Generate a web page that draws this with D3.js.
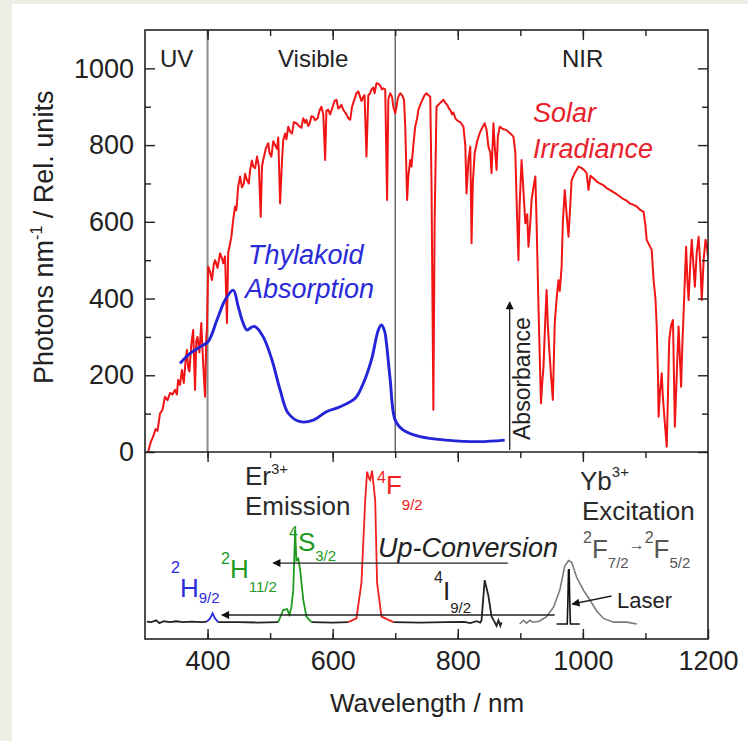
<!DOCTYPE html>
<html>
<head>
<meta charset="utf-8">
<script src="https://cdn.jsdelivr.net/npm/d3@7"></script>
<style>
  body { margin: 0; background: #ebeee2; }
  svg { display: block; }
  text { font-family: "Liberation Sans", Arial, Helvetica, sans-serif; }
</style>
</head>
<body>
<svg id="chart" width="748" height="741"></svg>
<script>
// ---- data (wavelength nm, value) ----
var solarIrradiance = [
  [305,0],[309,25],[313,40],[317,60],[320,55],[324,100],[328,110],[332,144],[336,135],[340,154],
  [344,150],[348,162],[351,150],[353,188],[356,175],[359,214],[362,180],[365,240],[367,266],[369,220],
  [371,210],[374,280],[377,318],[380,162],[382,290],[384,300],[387,260],[390,336],[393,230],[396,144],
  [398,300],[399,320],[401,483],[404,470],[407,448],[410,490],[412,500],[416,480],[420,518],[423,505],
  [425,492],[428,510],[431,336],[433,520],[435,535],[438,560],[441,605],[444,640],[446,630],[449,692],
  [452,718],[455,690],[458,700],[460,725],[463,709],[466,700],[468,735],[471,760],[473,744],[476,740],
  [479,770],[482,745],[485,613],[487,745],[489,761],[493,790],[497,805],[499,780],[502,770],[505,810],
  [508,800],[511,790],[513,820],[516,648],[519,760],[521,813],[524,830],[526,815],[529,848],[532,835],
  [535,830],[538,860],[542,857],[546,850],[550,845],[553,870],[556,858],[558,866],[561,850],[563,855],
  [566,875],[569,874],[572,865],[576,870],[579,890],[582,900],[585,880],[588,761],[590,890],[593,892],
  [596,880],[600,900],[603,915],[606,918],[609,895],[612,900],[614,905],[617,892],[620,885],[622,880],
  [625,870],[628,866],[631,900],[633,910],[636,925],[638,935],[641,940],[644,925],[646,915],[649,926],
  [651,930],[654,770],[657,930],[660,935],[662,945],[665,950],[667,935],[670,961],[673,960],[676,955],
  [679,945],[681,948],[684,945],[687,657],[689,920],[692,935],[695,925],[697,900],[700,883],[702,900],
  [704,920],[706,930],[708,935],[711,930],[714,918],[716,850],[719,657],[721,720],[724,761],[726,744],
  [729,800],[732,848],[735,870],[737,892],[740,905],[744,920],[747,930],[750,935],[753,930],[756,926],
  [758,700],[761,110],[763,600],[766,900],[769,905],[772,910],[775,915],[777,918],[780,910],[783,905],
  [786,895],[788,892],[791,880],[793,885],[796,870],[798,866],[801,862],[804,860],[806,855],[809,848],
  [812,800],[814,674],[817,760],[820,796],[822,544],[824,700],[827,779],[831,810],[835,831],[839,845],
  [843,857],[846,840],[849,796],[852,780],[854,727],[857,857],[859,800],[862,735],[864,820],[867,848],
  [872,842],[878,839],[884,830],[889,822],[892,780],[894,657],[897,500],[899,650],[902,761],[905,680],
  [908,596],[911,620],[913,535],[916,600],[918,657],[921,690],[924,718],[926,596],[929,379],[931,250],
  [933,127],[935,180],[937,222],[940,350],[942,422],[944,330],[946,274],[949,200],[952,136],[955,335],
  [958,400],[961,448],[963,420],[966,483],[968,600],[971,683],[974,620],[977,561],[980,650],[982,709],
  [985,720],[987,727],[990,735],[993,744],[996,742],[998,740],[1002,735],[1006,727],[1009,683],[1012,720],
  [1018,712],[1022,705],[1027,700],[1033,695],[1038,688],[1043,683],[1048,678],[1054,672],[1059,666],
  [1064,660],[1070,655],[1075,648],[1080,645],[1086,640],[1091,632],[1097,626],[1100,590],[1102,553],
  [1106,540],[1110,527],[1113,448],[1116,400],[1118,327],[1120,200],[1121,92],[1123,150],[1126,205],
  [1128,140],[1131,75],[1134,14],[1136,150],[1138,292],[1141,330],[1144,344],[1147,66],[1150,200],
  [1153,327],[1155,250],[1157,170],[1159,280],[1161,361],[1163,450],[1165,535],[1167,450],[1169,396],
  [1172,500],[1174,553],[1177,480],[1179,431],[1182,520],[1185,561],[1188,480],[1190,396],[1193,500],
  [1196,553],[1198,540],[1200,509]
];

var thylakoidAbs = [
  [356,231],[372,257],[388,274],[401,288],[415,344],[428,396],[441,422],[449,379],[456,340],[463,318],
  [470,325],[476,327],[489,300],[503,240],[516,162],[529,101],[548,79],[569,83],[590,105],[612,118],
  [636,140],[649,179],[662,240],[673,318],[678,331],[683,315],[686,283],[692,188],[700,83],[713,57],
  [740,40],[782,31],[835,27],[875,31]
];

// lower panel, relative units 0..1
var erBlack = [
  [303,.093],[310,.09],[318,.1],[323,.085],[330,.095],[340,.09],[350,.095],[360,.09],[375,.093],[390,.09],[399,.093],
  null,
  [417,.09],[450,.09],[480,.088],[513,.09],
  null,
  [566,.09],[600,.088],[625,.09],
  null,
  [697,.09],[740,.088],[780,.09],[810,.092],[820,.085],[830,.095],[836,.088],[838,.1],[843,.315],
  [849,.23],[854,.12],[859,.09],[862,.07],[865,.1],[868,.07],[870,.09]
];
var erBlue = [[399,.093],[404,.11],[408,.137],[412,.11],[417,.09]];
var erGreen = [[513,.09],[521,.155],[527,.16],[531,.13],[534,.17],[537,.26],[540,.583],[542,.42],
  [545,.43],[548,.37],[553,.21],[558,.12],[566,.09]];
var erRed = [[625,.09],[638,.11],[646,.30],[652,.74],[655,.895],[658,.86],[660,.85],[663,.90],
  [668,.74],[671,.30],[678,.12],[697,.09]];
var ybExcitation = [[899,.08],[905,.1],[910,.085],[915,.1],[920,.09],[930,.095],[942,.12],[953,.17],
  [963,.26],[971,.39],[977,.42],[982,.41],[990,.33],[1001,.26],[1011,.21],[1022,.15],[1033,.11],
  [1049,.09],[1070,.09],[1086,.08]];
var laserLine = [[958,.08],[975,.08],[976,.2],[977,.37],[978,.37],[979,.2],[980,.08],[995,.08]];

var xMajor = [400, 600, 800, 1000, 1200];
var xMinor = [400, 500, 600, 700, 800, 900, 1000, 1100];
var yMajor = [0, 200, 400, 600, 800, 1000];
var yMinor = [100, 300, 500, 700, 900];
var regionEdges = [400, 700];

// ---- layout ----
var frame = { left: 145, right: 708, top: 30, mid: 452, bottom: 639 };

var svg = d3.select("#chart");
svg.append("rect").attr("x", 12).attr("y", 4).attr("width", 736).attr("height", 737).attr("fill", "#fff");

var x = d3.scaleLinear().domain([300, 1200]).range([frame.left, frame.right]);
var yTop = d3.scaleLinear().domain([0, 1100]).range([frame.mid, frame.top]);
var yBot = d3.scaleLinear().domain([0, 1]).range([frame.bottom, frame.mid]);

var defs = svg.append("defs");
defs.append("clipPath").attr("id", "clipTop").append("rect")
  .attr("x", frame.left).attr("y", frame.top).attr("width", frame.right - frame.left).attr("height", frame.mid - frame.top);
defs.append("marker").attr("id", "headBig").attr("viewBox", "0 0 10 10").attr("refX", 9).attr("refY", 5)
  .attr("markerWidth", 14).attr("markerHeight", 8).attr("markerUnits", "userSpaceOnUse").attr("orient", "auto")
  .append("path").attr("d", "M0,0 L10,5 L0,10 z").attr("fill", "#111");

// region separators
svg.selectAll(".region").data(regionEdges).enter().append("line")
  .attr("x1", d => x(d)).attr("x2", d => x(d))
  .attr("y1", frame.top).attr("y2", frame.mid)
  .attr("stroke", (d, i) => i == 0 ? "#8a8a8a" : "#555")
  .attr("stroke-width", (d, i) => i == 0 ? 2 : 1.3);

// ---- top panel curves ----
var lineTop = d3.line().x(d => x(d[0])).y(d => yTop(d[1]));
svg.append("path").datum(solarIrradiance).attr("d", lineTop)
  .attr("fill", "none").attr("stroke", "#f01414").attr("stroke-width", 2).attr("stroke-linejoin", "round")
  .attr("clip-path", "url(#clipTop)");
svg.append("path").datum(thylakoidAbs).attr("d", lineTop.curve(d3.curveCatmullRom))
  .attr("fill", "none").attr("stroke", "#2323d8").attr("stroke-width", 2.9);

// absorbance arrow
svg.append("line").attr("x1", x(883)).attr("x2", x(883)).attr("y1", yTop(5)).attr("y2", yTop(391))
  .attr("stroke", "#222").attr("stroke-width", 1.3).attr("marker-end", "url(#headBig)");

// ---- bottom panel curves ----
var lineBot = d3.line().defined(d => d).x(d => x(d[0])).y(d => yBot(d[1]));
svg.append("path").datum(ybExcitation).attr("d", lineBot)
  .attr("fill", "none").attr("stroke", "#7a7a7a").attr("stroke-width", 1.6);
svg.append("path").datum(erBlack).attr("d", lineBot)
  .attr("fill", "none").attr("stroke", "#222").attr("stroke-width", 1.8);
svg.append("path").datum(laserLine).attr("d", lineBot)
  .attr("fill", "none").attr("stroke", "#111").attr("stroke-width", 1.6);
[[erBlue, "#2a2ae0"], [erGreen, "#1e9a1e"], [erRed, "#f02020"]].forEach(function (s) {
  svg.append("path").datum(s[0]).attr("d", lineBot)
    .attr("fill", "none").attr("stroke", s[1]).attr("stroke-width", 1.8);
});

// transition arrows
var arrows = [
  { from: [880, .406], to: [505, .406] },
  { from: [955, .128], to: [423, .128] },
  { from: [1046, .23], to: [983, .187] }
];
svg.selectAll(".arrow").data(arrows).enter().append("line")
  .attr("x1", d => x(d.from[0])).attr("y1", d => yBot(d.from[1]))
  .attr("x2", d => x(d.to[0])).attr("y2", d => yBot(d.to[1]))
  .attr("stroke", "#222").attr("stroke-width", 1.4).attr("marker-end", "url(#headBig)");

// ---- frames and ticks ----
svg.append("rect").attr("x", frame.left).attr("y", frame.top)
  .attr("width", frame.right - frame.left).attr("height", frame.bottom - frame.top)
  .attr("fill", "none").attr("stroke", "#222").attr("stroke-width", 1.6);
svg.append("line").attr("x1", frame.left).attr("x2", frame.right).attr("y1", frame.mid).attr("y2", frame.mid)
  .attr("stroke", "#222").attr("stroke-width", 1.6);

function tickRow(axis, transform) {
  svg.append("g").attr("transform", transform).call(axis)
    .call(g => g.select(".domain").remove())
    .call(g => g.selectAll(".tick line").attr("stroke", "#222").attr("stroke-width", 1.4));
}
var major = 10, minor = 6;
// bottom of lower panel, pointing up
tickRow(d3.axisBottom(x).tickValues(xMinor).tickSize(-minor).tickFormat(""), "translate(0," + frame.bottom + ")");
tickRow(d3.axisBottom(x).tickValues(xMajor).tickSize(-major).tickPadding(12).tickFormat(d3.format("d")),
  "translate(0," + frame.bottom + ")");
// top of lower panel, pointing down
tickRow(d3.axisTop(x).tickValues(xMinor).tickSize(-minor).tickFormat(""), "translate(0," + frame.mid + ")");
tickRow(d3.axisTop(x).tickValues(xMajor.slice(0, 4)).tickSize(-major).tickFormat(""), "translate(0," + frame.mid + ")");
// top edge, pointing down
tickRow(d3.axisTop(x).tickValues(xMinor).tickSize(-minor).tickFormat(""), "translate(0," + frame.top + ")");
tickRow(d3.axisTop(x).tickValues(xMajor.slice(0, 4)).tickSize(-major).tickFormat(""), "translate(0," + frame.top + ")");
// left / right of top panel
tickRow(d3.axisLeft(yTop).tickValues(yMinor).tickSize(-minor).tickFormat(""), "translate(" + frame.left + ",0)");
tickRow(d3.axisLeft(yTop).tickValues(yMajor).tickSize(-major).tickPadding(11).tickFormat(d3.format("d")),
  "translate(" + frame.left + ",0)");
tickRow(d3.axisRight(yTop).tickValues(yMinor).tickSize(-minor).tickFormat(""), "translate(" + frame.right + ",0)");
tickRow(d3.axisRight(yTop).tickValues(yMajor).tickSize(-major).tickFormat(""), "translate(" + frame.right + ",0)");

svg.selectAll(".tick text").attr("fill", "#222").style("font-size", "27px")
  .style("font-family", '"Liberation Sans", Arial, sans-serif');

// ---- axis titles ----
svg.append("text").attr("x", 427).attr("y", 712).attr("text-anchor", "middle")
  .attr("fill", "#222").style("font-size", "26px").text("Wavelength / nm");

var yTitle = svg.append("text").attr("transform", "translate(53,384) rotate(-90)")
  .attr("fill", "#222").style("font-size", "27px");
yTitle.append("tspan").text("Photons nm");
yTitle.append("tspan").attr("dy", -11).style("font-size", "16px").text("-1");
yTitle.append("tspan").attr("dy", 11).text(" / Rel. units");

// ---- annotations ----
// plain multi-line labels: [x, baseline, text, size]
function label(color, lines, italic) {
  var t = svg.append("text").attr("fill", color).style("font-style", italic ? "italic" : null);
  lines.forEach(function (p) {
    t.append("tspan").attr("x", p[0]).attr("y", p[1]).style("font-size", p[3] + "px").text(p[2]);
  });
  return t;
}
// spectroscopic term: parts flow left to right, [text, size, offset from baseline]
function term(color, x0, base, parts) {
  var t = svg.append("text").attr("x", x0).attr("y", base).attr("fill", color);
  parts.forEach(function (p) {
    t.append("tspan").attr("y", base + p[2]).style("font-size", p[1] + "px").text(p[0]);
  });
  return t;
}

label("#222", [[160, 67, "UV", 24]]);
label("#222", [[278, 67, "Visible", 24]]);
label("#222", [[562, 67, "NIR", 24]]);
label("#e8222c", [[533, 122, "Solar", 27], [533, 158, "Irradiance", 27]], true);
label("#2a2ad8", [[248, 264, "Thylakoid", 27], [245, 298, "Absorption", 27]], true);

svg.append("text").attr("transform", "translate(530,440) rotate(-90)")
  .attr("fill", "#222").style("font-size", "23px").text("Absorbance");

term("#2a2a2a", 245, 485, [["Er", 26, 0], ["3+", 15, -11]]);
label("#2a2a2a", [[245, 515, "Emission", 26]]);
term("#f02020", 377, 494, [["4", 16, -11], ["F", 26, 0], ["9/2", 15, 16]]);
term("#1e9a1e", 289, 551, [["4", 16, -13], ["S", 26, 0], ["3/2", 15, 10]]);
term("#1e9a1e", 221, 578, [["2", 16, -14], ["H", 26, 0], ["11/2", 15, 14]]);
term("#2a2ae0", 171, 597, [["2", 16, -24], ["H", 26, 0], ["9/2", 15, 6]]);
label("#222", [[378, 557, "Up-Conversion", 27]], true);
term("#222", 434, 600, [["4", 16, -17], ["I", 26, 0], ["9/2", 15, 13]]);
term("#2a2a2a", 580, 490, [["Yb", 26, 0], ["3+", 15, -13]]);
label("#2a2a2a", [[582, 520, "Excitation", 26]]);
term("#555", 583, 558, [["2", 16, -15], ["F", 26, 0], ["7/2", 15, 10], ["\u2192", 16, -8],
  ["2", 16, -15], ["F", 26, 0], ["5/2", 15, 10]]);
label("#222", [[617, 608, "Laser", 22]]);
</script>
</body>
</html>
